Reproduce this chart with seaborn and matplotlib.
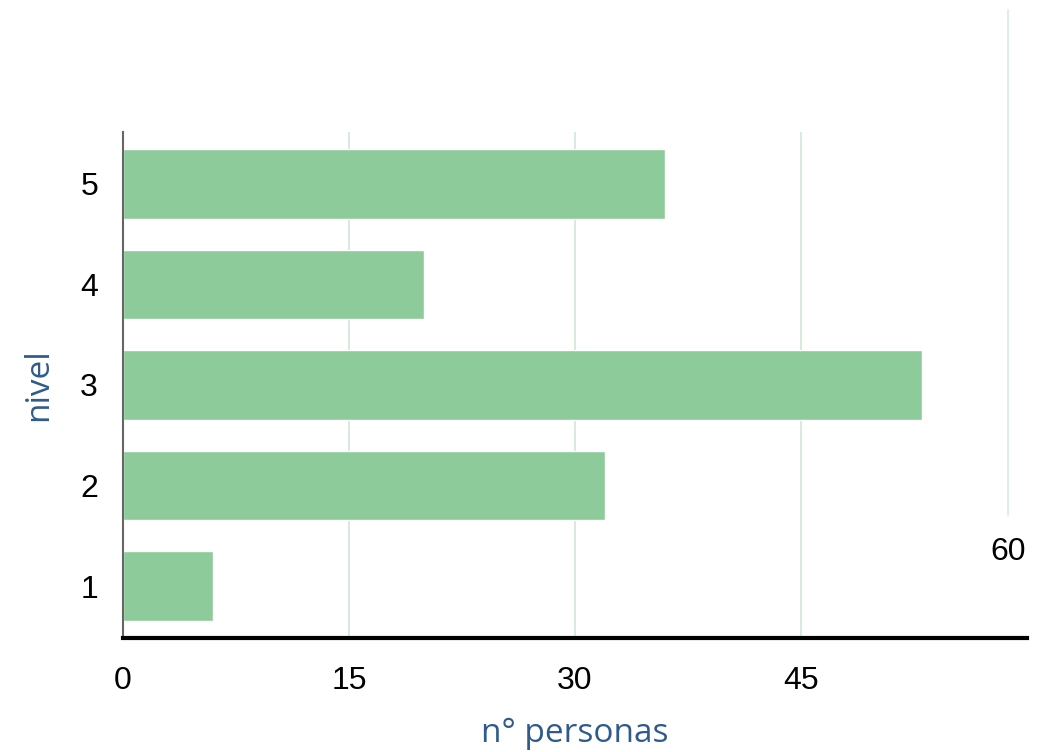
import pandas as pd
import matplotlib.pyplot as plt
import seaborn as sns

# data
niveles = ["5", "4", "3", "2", "1"]
personas = [36, 20, 53, 32, 6]
x_ticks = [0, 15, 30, 45]

df = pd.DataFrame({"nivel": niveles, "personas": personas})

sns.set_theme(style="white")
plt.rcParams['font.family'] = ['Liberation Sans', 'DejaVu Sans']

fig = plt.figure(figsize=(10.48, 7.52), dpi=100)
ax = fig.add_axes([123 / 1048, 1 - 638 / 752, (1027 - 123) / 1048, (638 - 132) / 752])

sns.barplot(data=df, x="personas", y="nivel", order=niveles, color="#8ecb9b",
            saturation=1, width=0.69, ax=ax, zorder=2)

ax.set_xlim(0, 60)
ax.set_ylim(4.515, -0.515)
ax.set_xticks(x_ticks)
ax.xaxis.grid(True, color="#cfe7d5", linewidth=1.2, zorder=0)
ax.set_axisbelow(True)

ax.tick_params(axis="both", length=0, labelsize=23, colors="black")
ax.tick_params(axis="x", pad=20)
ax.tick_params(axis="y", pad=18)

for s in ["top", "right"]:
    ax.spines[s].set_visible(False)
ax.spines["left"].set_color("#666666")
ax.spines["left"].set_linewidth(1.5)
ax.spines["bottom"].set_color("black")
ax.spines["bottom"].set_linewidth(3)

# stray 60 gridline and label as in the reference
fig.add_artist(plt.Line2D([1008 / 1048, 1008 / 1048], [1 - 515 / 752, 1 - 10 / 752],
                          color="#d6ecdb", linewidth=1.2, transform=fig.transFigure))
fig.text(1008 / 1048, 1 - 552 / 752, "60", ha="center", va="center", fontsize=23,
         color="black")

label_font = ['Open Sans', 'DejaVu Sans']
ax.set_xlabel("n° personas", fontsize=24, color="#2f5b8c", family=label_font, labelpad=15)
ax.set_ylabel("nivel", fontsize=24, color="#2f5b8c", family=label_font, labelpad=18)

fig.savefig("out.png", dpi=100)
